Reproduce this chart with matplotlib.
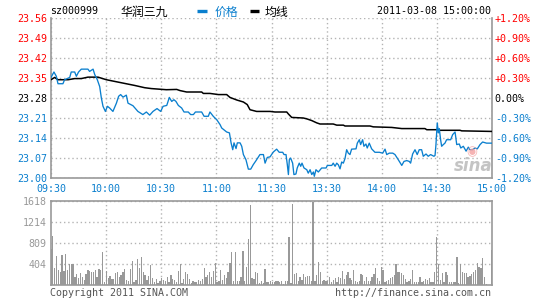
import numpy as np
import matplotlib
matplotlib.use("Agg")
from matplotlib import pyplot as plt
from matplotlib.lines import Line2D

RED = "#ff0000"
BLUE = "#0a7fce"
GRAY = "#999999"
GRID = "#b4b4b4"
MONO = "DejaVu Sans Mono"
CJK = ["Noto Sans CJK SC", "DejaVu Sans"]

prev_close = 23.28
price_ticks = [23.00, 23.07, 23.14, 23.21, 23.28, 23.35, 23.42, 23.49, 23.56]
pct_labels = ["-1.20%", "-0.90%", "-0.60%", "-0.30%", "0.00%",
              "+0.30%", "+0.60%", "+0.90%", "+1.20%"]
time_ticks = [0, 30, 60, 90, 120, 150, 180, 210, 240]
time_labels = ["09:30", "10:00", "10:30", "11:00", "11:30",
               "13:30", "14:00", "14:30", "15:00"]
vol_ticks = [404, 809, 1214, 1618]

# minutes since 09:30 (lunch break removed) -> price
price_t = [0, 1.6, 2.9, 3.8, 6.5, 7.4, 10.2, 11, 12.9, 13.8, 15, 16.5, 20.1, 21, 22.9,
           23.8, 25.2, 26.5, 27.4, 28.3, 29.6, 30.7, 31.9, 33.7, 35.6, 36.8, 37.9, 39.2,
           41, 41.9, 44.6, 47.3, 50, 51.9, 53.7, 55.5, 57.7, 59.7, 61, 63, 64.4, 65.7,
           66.9, 68, 69.3, 71.1, 72.4, 74.7, 76, 77.5, 78.6, 82, 83.3, 85.6, 86.5, 88.3,
           90.2, 92, 92.9, 95.6, 97.1, 98, 98.9, 99.6, 100.7, 101.4, 102.9, 103.8, 104.7,
           106.1, 107.4, 108.7, 110.1, 111.6, 113.7, 115.6, 116.5, 117.7, 119.2, 121,
           122.8, 124.2, 126.1, 126.8, 127.9, 128.6, 129.2, 129.7, 130.4, 131.5, 132.2,
           133.3, 134, 135.1, 135.9, 136.6, 137.7, 139.2, 140, 141, 141.9, 142.8, 143.3,
           144.2, 145.5, 147.3, 149.7, 150.4, 152.8, 153.6, 154.6, 155.5, 156.4, 157.3,
           158.2, 159.1, 160, 160.9, 161.8, 162.7, 163.6, 166, 166.7, 167.8, 168.5, 169.6,
           170.3, 171.4, 172.1, 173.2, 174.5, 176.3, 178.7, 180.5, 181.8, 182.7, 184.1,
           186, 187.2, 189, 190.9, 192.1, 193.6, 195, 195.7, 196.8, 198.1, 199.3, 200.4,
           201.7, 202.6, 204.1, 205.3, 206.6, 208.4, 209, 209.5, 210.2, 210.8, 211.3,
           212.1, 212.6, 213.5, 214.4, 215.3, 217.5, 218.6, 219.9, 220.8, 222.2, 223,
           224.4, 225.9, 227.1, 228, 229.5, 230.7, 232, 233.5, 234.9, 237, 240]
price = [23.352, 23.371, 23.356, 23.33, 23.33, 23.344, 23.352, 23.371, 23.371, 23.356,
         23.371, 23.381, 23.381, 23.373, 23.381, 23.362, 23.344, 23.32, 23.28, 23.251,
         23.233, 23.251, 23.245, 23.233, 23.262, 23.286, 23.292, 23.283, 23.29, 23.262,
         23.253, 23.233, 23.222, 23.231, 23.22, 23.233, 23.243, 23.233, 23.251, 23.254,
         23.282, 23.268, 23.274, 23.268, 23.254, 23.245, 23.231, 23.231, 23.222, 23.222,
         23.231, 23.231, 23.216, 23.216, 23.231, 23.216, 23.204, 23.187, 23.175, 23.161,
         23.158, 23.123, 23.099, 23.123, 23.103, 23.123, 23.123, 23.111, 23.082, 23.064,
         23.031, 23.031, 23.047, 23.061, 23.082, 23.082, 23.052, 23.072, 23.074, 23.091,
         23.101, 23.090, 23.090, 23.082, 23.082, 23.047, 23.012, 23.064, 23.070, 23.052,
         23.012, 23.014, 23.035, 23.052, 23.041, 23.052, 23.035, 23.029, 23.017, 23.029,
         23.012, 23.021, 23.006, 23.029, 23.021, 23.035, 23.035, 23.044, 23.044, 23.052,
         23.041, 23.052, 23.046, 23.032, 23.056, 23.052, 23.068, 23.099, 23.087, 23.082,
         23.101, 23.102, 23.122, 23.134, 23.117, 23.134, 23.111, 23.119, 23.105, 23.122,
         23.102, 23.090, 23.090, 23.087, 23.101, 23.082, 23.087, 23.087, 23.082, 23.064,
         23.044, 23.058, 23.061, 23.058, 23.052, 23.084, 23.099, 23.082, 23.099, 23.099,
         23.076, 23.084, 23.076, 23.082, 23.076, 23.079, 23.117, 23.193, 23.158, 23.173,
         23.131, 23.111, 23.117, 23.122, 23.134, 23.134, 23.152, 23.161, 23.117, 23.119,
         23.105, 23.111, 23.094, 23.108, 23.099, 23.099, 23.105, 23.102, 23.117, 23.126,
         23.122, 23.122]

avg_t = [0, 2, 3.8, 9.3, 12.9, 16.5, 20.1, 25.6, 30.1, 34.7, 40.1, 45.5, 51, 54.6, 62.8,
         68.4, 70.2, 73.8, 82, 82.9, 86.5, 91.1, 95.6, 97.4, 101.1, 104.7, 106.8, 108.3,
         111.9, 119.2, 121.9, 128.3, 129.2, 131, 137.3, 139.2, 141.9, 144.6, 146.4, 153.6,
         155.5, 159.1, 160, 173.6, 175.4, 185.4, 190.9, 203.5, 204.5, 209.9, 210.8, 222.6,
         223.5, 240]
avg = [23.344, 23.352, 23.344, 23.344, 23.348, 23.348, 23.353, 23.353, 23.344, 23.338,
       23.331, 23.324, 23.316, 23.313, 23.309, 23.31, 23.306, 23.301, 23.301, 23.296,
       23.296, 23.292, 23.292, 23.282, 23.273, 23.266, 23.257, 23.239, 23.233, 23.233,
       23.231, 23.231, 23.224, 23.212, 23.210, 23.207, 23.201, 23.193, 23.189, 23.189,
       23.185, 23.185, 23.182, 23.182, 23.179, 23.177, 23.173, 23.173, 23.169, 23.169,
       23.167, 23.167, 23.165, 23.163]

# per-minute volume, 09:30 -> 15:00
volume = [693, 944, 334, 565, 289, 257, 578, 270, 597, 289,
          398, 398, 398, 161, 218, 141, 238, 161, 96, 205,
          289, 270, 244, 257, 289, 161, 308, 289, 642, 64,
          270, 128, 180, 116, 116, 238, 244, 161, 193, 244,
          308, 96, 77, 308, 462, 51, 96, 501, 334, 546,
          257, 193, 96, 173, 385, 128, 51, 116, 32, 77,
          128, 96, 77, 161, 64, 193, 116, 96, 64, 270,
          398, 32, 116, 257, 205, 116, 32, 77, 51, 64,
          96,
          77, 116, 321, 161, 193, 257, 161, 270, 417, 64,
          77, 289, 96, 193, 128, 257, 417, 629, 77, 629,
          77, 77, 161, 655, 77, 353, 886, 1541, 141, 116,
          257, 225, 32, 77, 32, 308, 51, 64, 77, 51,
          51, 77, 77, 51, 77, 13, 77, 77, 931, 32,
          1554, 205, 225, 77, 161, 96, 205, 161, 180, 180,
          77, 1605, 77, 193, 437, 257, 77, 96, 77, 77,
          161, 64, 96, 128, 64, 161, 128, 270, 116, 193,
          257, 128, 96, 289, 77, 64, 77, 205, 193, 77,
          161, 77, 77, 161, 205, 334, 128, 77, 353, 289,
          64, 77, 96, 128, 161, 193, 398, 257, 257, 225,
          193, 116, 64, 77, 116, 289, 51, 64, 51, 161,
          51, 77, 116, 96, 141, 64, 64, 257, 931, 398,
          96, 225, 64, 244, 193, 64, 51, 64, 51, 546,
          32, 398, 257, 225, 225, 161, 180, 205, 257, 289,
          417, 353, 321, 514, 161, 13, 8, 8, 674]

W, H = 545, 300
fig = plt.figure(figsize=(W / 100, H / 100), dpi=100)
fig.patch.set_facecolor("white")


def px(x, y):
    return x / W, 1 - y / H


def style_axes(a):
    a.grid(True, linestyle=(0, (1, 2)), color=GRID, linewidth=1)
    a.set_axisbelow(True)
    for s in a.spines.values():
        s.set_color(GRAY)
        s.set_linewidth(1.2)
    a.tick_params(length=0, labelsize=7.2)


# price chart
ax = fig.add_axes([51 / W, 1 - 178 / H, 441 / W, 160 / H])
style_axes(ax)
ax.spines["top"].set_visible(False)
ax.set_xlim(0, 240)
ax.set_ylim(23.00, 23.56)
ax.set_xticks(time_ticks)
ax.set_xticklabels(time_labels, family=MONO, color=BLUE)
ax.set_yticks(price_ticks)
ax.set_yticklabels(["%.2f" % p for p in price_ticks], family=MONO)
ax.tick_params(axis="y", pad=3)
ax.tick_params(axis="x", pad=4)

ax2 = ax.twinx()
ax2.set_ylim(ax.get_ylim())
ax2.set_yticks(price_ticks)
ax2.set_yticklabels(pct_labels, family=MONO)
ax2.tick_params(length=0, labelsize=7.2, pad=2)
for s in ax2.spines.values():
    s.set_visible(False)

for a in (ax, ax2):
    for lab, p in zip(a.get_yticklabels(), price_ticks):
        if p > prev_close + 1e-6:
            lab.set_color(RED)
        elif p < prev_close - 1e-6:
            lab.set_color(BLUE)
        else:
            lab.set_color("black")

ax.plot(avg_t, avg, color="black", linewidth=1.1, zorder=3)
ax.plot(price_t, price, color=BLUE, linewidth=0.95, zorder=4)

# sina watermark
fig.text(*px(472, 152), "\u25C9", color="#f4a0a0", fontsize=9, ha="center", va="center", alpha=0.8)
fig.text(*px(473, 166), "sina", color="#c4c4c4", fontsize=12, fontweight="bold",
         style="italic", ha="center", va="center")

# volume chart
vax = fig.add_axes([51 / W, 1 - 285 / H, 441 / W, 84 / H])
style_axes(vax)
vax.set_xlim(0, 240)
vax.set_ylim(0, 1618)
vax.set_xticks(time_ticks[1:-1])
vax.set_xticklabels([])
vax.set_yticks(vol_ticks)
vax.set_yticklabels([str(v) for v in vol_ticks], family=MONO, color=GRAY)
vax.tick_params(axis="y", pad=3)
vol_t = np.linspace(0, 240, len(volume))
vax.bar(vol_t, volume, width=0.7, color=GRAY, linewidth=0, zorder=3, antialiased=False)

# header
fig.text(*px(50, 11), "sz000999", family=MONO, fontsize=7.2, va="center")
fig.text(*px(120, 12), "华润三九", family=CJK, fontsize=8.6, va="center")
fig.add_artist(Line2D([197 / W, 207 / W], [1 - 11 / H] * 2, color=BLUE, linewidth=2.4,
                      solid_capstyle="butt"))
fig.text(*px(215, 12), "价格", color=BLUE, family=CJK, fontsize=8.6, va="center")
fig.add_artist(Line2D([250 / W, 259 / W], [1 - 11 / H] * 2, color="black", linewidth=2.4,
                      solid_capstyle="butt"))
fig.text(*px(265, 12), "均线", color="black", family=CJK, fontsize=8.6, va="center")
fig.text(*px(491, 11), "2011-03-08 15:00:00", family=MONO, fontsize=7.2,
         ha="right", va="center")

# footer
fig.text(*px(50, 293), "Copyright 2011 SINA.COM", family=MONO, fontsize=7.2,
         color="#555555", va="center")
fig.text(*px(491, 293), "http://finance.sina.com.cn", family=MONO, fontsize=7.2,
         color="#555555", ha="right", va="center")

fig.savefig("out.png", dpi=100)
